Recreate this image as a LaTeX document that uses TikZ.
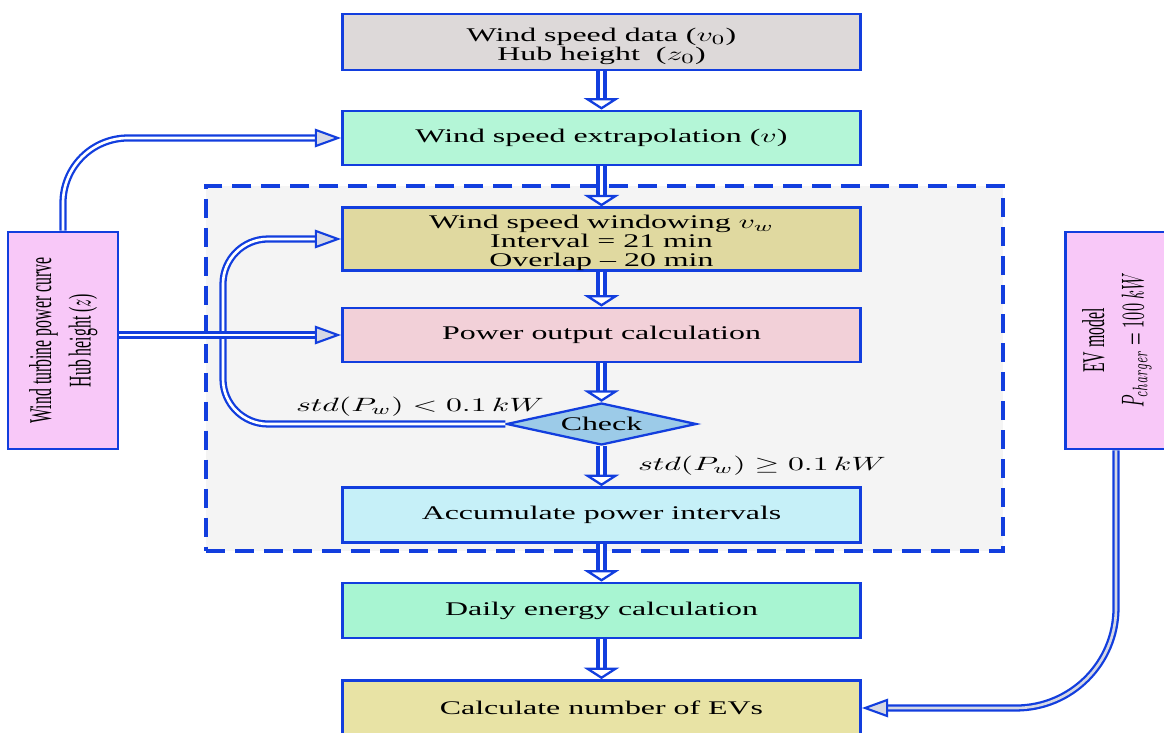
\documentclass[tikz,border=0pt]{standalone}
\usepackage{amsmath, amssymb}
\usepackage{graphicx}
\usepackage{fontspec}
\setmainfont{Liberation Serif}[FakeStretch=1.65]
\newfontfamily\plainserif{Liberation Serif}
\usepackage{xcolor}
\usepackage{tikz}
\usetikzlibrary{shapes.geometric, arrows.meta, positioning, calc}

\definecolor{flowblue}{RGB}{18,62,222}
\definecolor{datagray}{RGB}{221,217,217}
\definecolor{extrapgreen}{RGB}{180,246,215}
\definecolor{windowkhaki}{RGB}{224,217,160}
\definecolor{powerpink}{RGB}{242,208,216}
\definecolor{checkblue}{RGB}{156,203,232}
\definecolor{accumcyan}{RGB}{198,240,248}
\definecolor{dailygreen}{RGB}{168,245,210}
\definecolor{evkhaki}{RGB}{232,227,165}
\definecolor{sidepink}{RGB}{248,200,248}
\definecolor{framegray}{RGB}{244,244,244}
\definecolor{headgray}{RGB}{214,216,228}

% stretched math, to sit with the stretched text
\newcommand{\wm}[1]{\scalebox{1.65}[1]{$#1$}}
% upright text set sideways
\newcommand{\sidetext}[1]{\rotatebox{90}{\scalebox{1}[2]{\plainserif\fontsize{9}{11.2}\selectfont\begin{tabular}{@{}c@{}}#1\end{tabular}}}}

\begin{document}
\begin{tikzpicture}[
    x=0.02cm, y=-0.02cm,
    block/.style={rectangle, draw=flowblue, line width=1.6pt, minimum width=10.36cm, minimum height=1.1cm, text centered, align=center, inner sep=2pt, font=\fontsize{11}{11}\selectfont},
    sidebox/.style={rectangle, draw=flowblue, line width=1.6pt, fill=sidepink, minimum height=4.34cm, inner sep=0pt},
    decision/.style={diamond, draw=flowblue, line width=1.3pt, fill=checkblue, aspect=4.5, minimum width=3.8cm, minimum height=0.84cm, inner sep=0pt, font=\fontsize{11}{11}\selectfont},
    loopframe/.style={rectangle, draw=flowblue, line width=1.8pt, dash pattern=on 11pt off 5.5pt, fill=framegray, minimum width=15.94cm, minimum height=7.3cm},
    varrow/.style={draw=flowblue, line width=2pt, double=white, double distance=2.2pt, -{Triangle[open, fill=white, length=6.5pt, width=20pt, line width=1.3pt]}},
    harrow/.style={draw=flowblue, line width=1.3pt, double=white, double distance=1.5pt, -{Triangle[open, fill=headgray, length=15pt, width=10.5pt, line width=1.2pt]}},
    cond/.style={font=\fontsize{11}{11}\selectfont}
]
    \useasboundingbox (0,0) rectangle (1164,733);

    % Windowing loop - background
    \node[loopframe] (loop) at (604.5,368.5) {};

    % Main column
    \node[block, fill=datagray, minimum height=1.12cm] (data) at (601.5,42) {\rule{0pt}{13pt}Wind speed data (\wm{v_0})\\Hub height\ \ (\wm{z_0})};
    \node[block, fill=extrapgreen, minimum height=1.08cm] (extrap) at (601.5,138) {Wind speed extrapolation (\wm{v})};
    \node[block, fill=windowkhaki, minimum height=1.24cm, inner ysep=0pt, font=\fontsize{11}{10.6}\selectfont] (window) at (601.5,239) {\rule{0pt}{12pt}Wind speed windowing \wm{v_w}\\Interval = 21 min\\Overlap -- 20 min};
    \node[block, fill=powerpink, minimum height=1.08cm] (power) at (601.5,335) {Power output calculation};
    \node[decision] (check) at (601.5,424) {Check};
    \node[block, fill=accumcyan] (accum) at (601.5,515) {Accumulate power intervals};
    \node[block, fill=dailygreen] (daily) at (601.5,610.5) {Daily energy calculation};
    \node[block, fill=evkhaki] (evcount) at (601.5,708) {Calculate number of EVs};

    % Side inputs
    \node[sidebox, minimum width=2.2cm] (turbine) at (63,340.5) {\sidetext{Wind turbine power curve\\Hub height ($z$)}};
    \node[sidebox, minimum width=2.02cm] (evmodel) at (1116,340.5) {\sidetext{EV model\\$P_{charger} = 100\ kW$}};

    % Conditions
    \node[cond] (keep) at (420,407) {\wm{std(P_w) < 0.1\,kW}};
    \node[cond] (pass) at (762,466) {\wm{std(P_w) \geq 0.1\,kW}};

    % Main flow
    \draw[varrow] (data) -- (extrap);
    \draw[varrow] (extrap) -- (window);
    \draw[varrow] (window) -- (power);
    \draw[varrow] (power) -- (check);
    \draw[varrow] (check) -- (accum);
    \draw[varrow] (accum) -- (daily);
    \draw[varrow] (daily) -- (evcount);

    % Feedback loop
    \coordinate (loopbottom) at (223,424);
    \coordinate (looptop) at (223,239);
    \draw[harrow, rounded corners=0.9cm] (check.west) -- (loopbottom) -- (looptop) -- (window.west);

    % Side feeds
    \draw[harrow, rounded corners=1.3cm] (turbine.north) |- (extrap.west);
    \draw[harrow] (turbine.east |- power.west) -- (power.west);
    \draw[harrow, double=headgray, rounded corners=2cm] (evmodel.south) |- (evcount.east);
\end{tikzpicture}
\end{document}
